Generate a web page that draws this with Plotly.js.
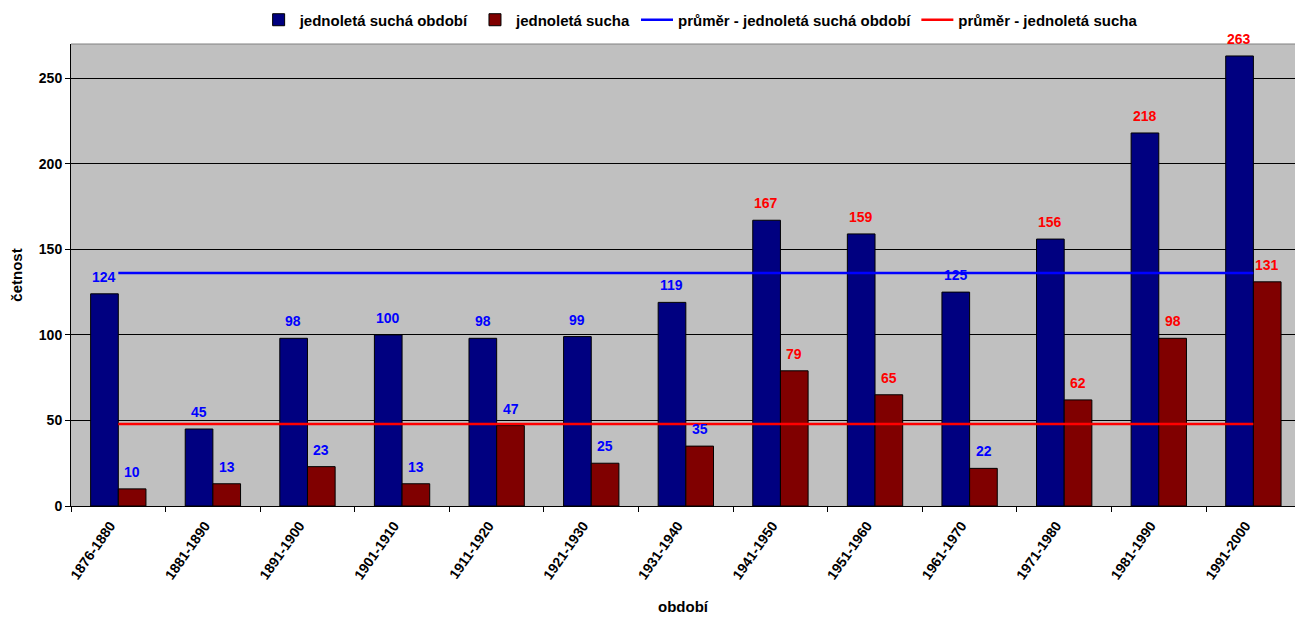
<!DOCTYPE html>
<html>
<head>
<meta charset="utf-8">
<script src="https://cdn.plot.ly/plotly-3.0.1.min.js"></script>
<style>html,body{margin:0;padding:0;background:#fff;}#chart{width:1295px;height:617px;}</style>
</head>
<body>
<div id="chart"></div>
<script>
const categories = ["1876-1880","1881-1890","1891-1900","1901-1910","1911-1920","1921-1930","1931-1940","1941-1950","1951-1960","1961-1970","1971-1980","1981-1990","1991-2000"];
const dryPeriods = [124,45,98,100,98,99,119,167,159,125,156,218,263];
const droughts = [10,13,23,13,47,25,35,79,65,22,62,98,131];
const meanDryPeriods = 136.2;
const meanDroughts = 47.9;

const FONT = "Liberation Sans, Arial, sans-serif";
const BLUE_LABEL = "#0000FF";
const RED_LABEL = "#FF0000";

const traces = [
  {type:"bar", name:"jednoletá suchá období", x:categories, y:dryPeriods,
   marker:{color:"#000080", line:{color:"#000000", width:1}}, hoverinfo:"x+y"},
  {type:"bar", name:"jednoletá sucha", x:categories, y:droughts,
   marker:{color:"#800000", line:{color:"#000000", width:1}}, hoverinfo:"x+y"},
  {type:"scatter", mode:"lines", name:"průměr - jednoletá suchá období",
   x:[categories[0], categories[categories.length-1]], y:[meanDryPeriods, meanDryPeriods],
   line:{color:"#0000FF", width:2.5}},
  {type:"scatter", mode:"lines", name:"průměr - jednoletá sucha",
   x:[categories[0], categories[categories.length-1]], y:[meanDroughts, meanDroughts],
   line:{color:"#FF0000", width:2.5}}
];

const annotations = [];
categories.forEach((c,i)=>{
  annotations.push({x:c, y:dryPeriods[i], xref:"x", yref:"y", text:String(dryPeriods[i]),
    showarrow:false, xshift:-14, yshift:7, yanchor:"bottom",
    font:{family:FONT, size:14, color: dryPeriods[i] > meanDryPeriods ? RED_LABEL : BLUE_LABEL, weight:700}});
  annotations.push({x:c, y:droughts[i], xref:"x", yref:"y", text:String(droughts[i]),
    showarrow:false, xshift:14, yshift:7, yanchor:"bottom",
    font:{family:FONT, size:14, color: droughts[i] > meanDroughts ? RED_LABEL : BLUE_LABEL, weight:700}});
});

const layout = {
  width:1295, height:617,
  margin:{l:71, r:0, t:44, b:111},
  paper_bgcolor:"#FFFFFF", plot_bgcolor:"#C0C0C0",
  font:{family:FONT, size:14, color:"#000000", weight:700},
  barmode:"group", bargap:0.415, bargroupgap:0,
  showlegend:true,
  legend:{orientation:"h", x:0.514, xanchor:"center", y:1.052, yanchor:"middle",
    font:{family:FONT, size:15, weight:700}, itemwidth:32, tracegroupgap:0, bgcolor:"rgba(0,0,0,0)"},
  xaxis:{type:"category", range:[-0.5, 12.44], tickangle:-55, tickson:"boundaries",
    ticks:"outside", ticklen:5, tickcolor:"#000", showline:true, linecolor:"#000", linewidth:1,
    showgrid:false, automargin:false, tickfont:{family:FONT, size:14, weight:700},
    ticklabelshift:-8, ticklabelstandoff:5,
    title:{text:"období", font:{family:FONT, size:15, weight:700}, standoff:20}},
  yaxis:{range:[0,270], dtick:50, tick0:0, ticks:"outside", ticklen:5, tickcolor:"#000",
    showline:true, linecolor:"#000", linewidth:1, showgrid:true, gridcolor:"#000000", gridwidth:1,
    zeroline:true, zerolinecolor:"#000", zerolinewidth:1, automargin:false,
    tickfont:{family:FONT, size:14, weight:700},
    title:{text:"četnost", font:{family:FONT, size:15, weight:700}, standoff:12}},
  shapes:[{type:"line", xref:"paper", yref:"paper", x0:0, x1:1, y0:1, y1:1, line:{color:"#808080", width:1}}],
  annotations: annotations
};

Plotly.newPlot("chart", traces, layout, {displayModeBar:false, staticPlot:true});
</script>
</body>
</html>
